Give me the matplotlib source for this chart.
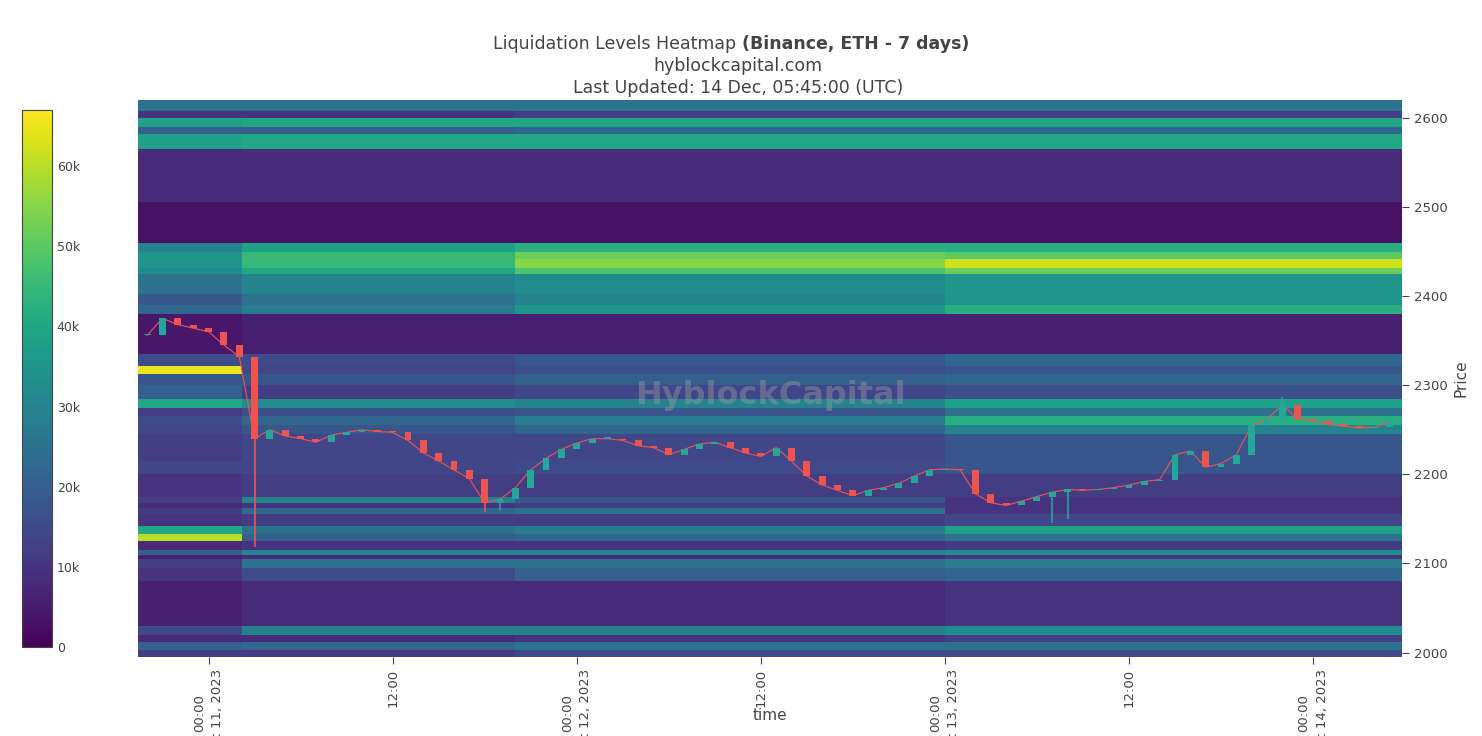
import numpy as np
import matplotlib
matplotlib.use("Agg")
from matplotlib import pyplot as plt

# heatmap bands: price low, price high, and level (k) in 4 time segments
band_lo = [1995, 2003, 2012, 2020, 2030, 2080, 2095, 2105, 2110, 2115, 2125, 2133, 2142, 2155, 2162,
           2168, 2174, 2200, 2215, 2245, 2255, 2265, 2274, 2284, 2300, 2312, 2322, 2335, 2380, 2390,
           2402, 2425, 2432, 2442, 2450, 2460, 2505, 2565, 2582, 2590, 2600, 2608]
band_hi = band_lo[1:] + [2620]
seg_a = [12, 20, 8, 15, 6, 10, 12, 6, 20, 8, 60, 40, 10, 12, 8, 12, 10, 14, 12, 14, 15, 12, 40, 20, 18,
         65, 15, 4, 22, 18, 25, 32, 35, 35, 30, 3, 8, 38, 20, 38, 10, 25]
seg_b = [12, 22, 8, 30, 8, 15, 25, 8, 30, 10, 20, 25, 12, 22, 10, 30, 12, 14, 14, 18, 22, 16, 32, 12, 18,
         14, 15, 6, 28, 25, 30, 40, 45, 45, 38, 3, 8, 40, 20, 40, 10, 25]
seg_c = [15, 25, 10, 30, 8, 20, 25, 8, 30, 10, 22, 28, 12, 25, 12, 18, 12, 15, 14, 22, 28, 18, 30, 14, 20,
         16, 18, 6, 35, 30, 32, 48, 55, 52, 42, 3, 8, 40, 22, 40, 12, 25]
seg_d = [15, 25, 12, 32, 10, 22, 28, 10, 32, 12, 25, 38, 14, 10, 10, 10, 12, 18, 18, 30, 42, 25, 38, 16, 22,
         18, 22, 6, 42, 35, 35, 52, 62, 50, 42, 3, 8, 40, 22, 40, 12, 25]
seg_edges = [-4.6, 2.2, 20, 48, 77.8]  # hours from Dec 11 00:00

# hourly closes, hours from Dec 11 00:00
hours = list(range(-4, 78))
closes = [2356, 2375, 2368, 2364, 2360, 2345, 2332, 2240, 2250, 2243, 2240, 2236, 2244, 2247, 2250, 2248,
          2247, 2238, 2224, 2215, 2205, 2195, 2168, 2172, 2185, 2205, 2218, 2228, 2235, 2240, 2240, 2238,
          2232, 2230, 2222, 2228, 2234, 2236, 2230, 2224, 2220, 2230, 2215, 2198, 2188, 2182, 2176, 2182,
          2185, 2190, 2198, 2205, 2206, 2205, 2178, 2168, 2165, 2170, 2175, 2180, 2183, 2182, 2183, 2185,
          2188, 2192, 2194, 2222, 2226, 2208, 2212, 2222, 2255, 2262, 2278, 2262, 2260, 2256, 2254, 2252,
          2253, 2258]
wick_extremes = {3: 2118, 18: 2158, 19: 2160, 55: 2145, 56: 2150, 70: 2287}

tick_hours = [0, 12, 24, 36, 48, 60, 72]
tick_labels = ["00:00\nDec 11, 2023", "12:00", "00:00\nDec 12, 2023", "12:00",
               "00:00\nDec 13, 2023", "12:00", "00:00\nDec 14, 2023"]

fig = plt.figure(figsize=(14.82, 7.36), dpi=100)
W, H = 1482, 736
ax = fig.add_axes([138 / W, 1 - 657 / H, (1402 - 138) / W, (657 - 100) / H])

yedges = band_lo + [band_hi[-1]]
z = np.array([seg_a, seg_b, seg_c, seg_d]).T
mesh = ax.pcolormesh(seg_edges, yedges, z * 1000, cmap="viridis", vmin=0, vmax=67000, shading="flat")

# candles
prev = closes[0]
for h, c in zip(hours, closes):
    col = "#26a69a" if c >= prev else "#ef5350"
    lo = min(prev, c, wick_extremes.get(h, 9999))
    hi = max(prev, c, wick_extremes.get(h, 0))
    ax.vlines(h, lo, hi, color=col, lw=1.2, zorder=3)
    ax.bar(h, max(abs(c - prev), 1.5), bottom=min(prev, c), width=0.45, color=col, zorder=4)
    prev = c
ax.plot(hours, closes, color="#ef5350", lw=0.8, zorder=2)

ax.set_xlim(-4.6, 77.8)
ax.set_ylim(1995, 2620)
ax.yaxis.tick_right()
ax.yaxis.set_label_position("right")
ax.set_yticks(range(2000, 2601, 100))
ax.set_ylabel("Price", color="#444", fontsize=11)
ax.set_xticks(tick_hours)
ax.set_xticklabels(tick_labels, rotation=90, va="top", ha="center", fontsize=9.5, color="#444", linespacing=1.5)
ax.tick_params(colors="#444", labelsize=9.5, length=5)
for s in ax.spines.values():
    s.set_visible(False)
fig.text(770 / W, 1 - 715 / H, "time", ha="center", va="center", fontsize=11, color="#444")

ax.text(0.5, 0.47, "HyblockCapital", transform=ax.transAxes, ha="center", va="center",
        fontsize=23, fontweight="bold", color="#a0a0a0", alpha=0.4, zorder=5)

cax = fig.add_axes([22 / W, 1 - 647 / H, 30 / W, (647 - 110) / H])
cb = fig.colorbar(mesh, cax=cax, ticks=range(0, 70000, 10000))
cb.ax.set_yticklabels(["0"] + [f"{v}k" for v in range(10, 70, 10)])
cb.ax.tick_params(labelsize=9, colors="#444", length=0)
cb.outline.set_edgecolor("#444")

fig.text(742 / W, 1 - 44 / H, "Liquidation Levels Heatmap ", ha="right", va="center", fontsize=12.5, color="#444")
fig.text(742 / W, 1 - 44 / H, "(Binance, ETH - 7 days)", ha="left", va="center", fontsize=12.5,
         color="#444", fontweight="bold")
fig.text(738 / W, 1 - 66 / H, "hyblockcapital.com", ha="center", va="center", fontsize=12.5, color="#444")
fig.text(738 / W, 1 - 88 / H, "Last Updated: 14 Dec, 05:45:00 (UTC)", ha="center", va="center",
         fontsize=12.5, color="#444")

fig.savefig("out.png", dpi=100)
